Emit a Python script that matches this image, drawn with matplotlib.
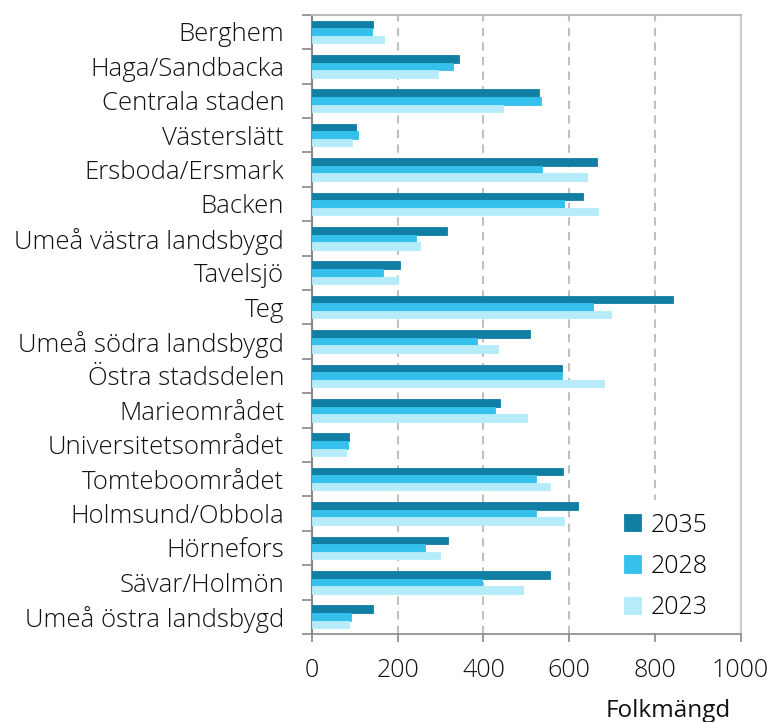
import matplotlib
matplotlib.use("Agg")
import matplotlib.pyplot as plt
import numpy as np
from matplotlib.ticker import FixedLocator

plt.rcParams['font.family'] = ['Open Sans', 'DejaVu Sans']
plt.rcParams['font.weight'] = 'light'

categories = ["Berghem", "Haga/Sandbacka", "Centrala staden", "Västerslätt",
              "Ersboda/Ersmark", "Backen", "Umeå västra landsbygd", "Tavelsjö",
              "Teg", "Umeå södra landsbygd", "Östra stadsdelen", "Marieområdet",
              "Universitetsområdet", "Tomteboområdet", "Holmsund/Obbola",
              "Hörnefors", "Sävar/Holmön", "Umeå östra landsbygd"]
v2035 = [142, 344, 530, 103, 665, 632, 316, 205, 843, 508, 583, 439, 86, 585, 621, 317, 555, 142]
v2028 = [141, 329, 535, 107, 537, 587, 242, 165, 655, 384, 584, 427, 84, 523, 523, 263, 396, 91]
v2023 = [167, 295, 446, 93, 642, 667, 252, 201, 697, 434, 681, 502, 79, 555, 588, 299, 492, 86]
series = [("2035", v2035, "#117fa4"), ("2028", v2028, "#36c1ec"), ("2023", v2023, "#b6ecfa")]
xticks = [0, 200, 400, 600, 800, 1000]

fig = plt.figure(figsize=(7.73, 7.22), dpi=100)
ax = fig.add_axes([0.4036, 0.122, 0.958 - 0.4036, 0.9796 - 0.122])

n = len(categories)
y = np.arange(n)
h = 0.22
offsets = [-h, 0, h]
for (lab, vals, col), off in zip(series, offsets):
    ax.barh(y + off, vals, height=h, color=col, label=lab,
            edgecolor=col, linewidth=0.6, zorder=3)

ax.set_ylim(n - 0.5, -0.5)
ax.set_xlim(0, 1000)
ax.set_xticks(xticks)
ax.set_xticklabels([str(t) for t in xticks], fontsize=18, color="#111111")
ax.tick_params(axis='x', length=6, width=1.2, color="#888888", pad=11)
ax.set_yticks(y)
ax.set_yticklabels(categories, fontsize=18.5, color="#111111")
ax.tick_params(axis='y', which='major', length=0, pad=20)
ax.yaxis.set_minor_locator(FixedLocator(np.arange(-0.5, n, 1.0)))
ax.tick_params(axis='y', which='minor', length=7, width=1.2, color="#888888")

for gx in xticks[1:-1]:
    ax.axvline(gx, color="#c0c0c0", linestyle=(0, (4, 3)), linewidth=1.5, zorder=1)

ax.spines['left'].set_color("#888888")
ax.spines['left'].set_linewidth(1.5)
ax.spines['bottom'].set_color("#888888")
ax.spines['bottom'].set_linewidth(1.2)
ax.spines['top'].set_color("#bbbbbb")
ax.spines['top'].set_linewidth(1.5)
ax.spines['right'].set_color("#cccccc")
ax.spines['right'].set_linewidth(1.5)

leg = ax.legend(loc='lower right', bbox_to_anchor=(0.982, -0.018), frameon=True,
                facecolor='white', edgecolor='none', framealpha=1.0, fancybox=False,
                fontsize=18, handlelength=0.68, handleheight=0.68,
                labelspacing=0.65, handletextpad=0.4, borderpad=0.5)
leg.set_zorder(5)

fig.text(0.946, 0.007, "Folkmängd", fontsize=17.5, fontweight='normal',
         ha='right', va='baseline', color="#111111")

fig.savefig("out.png", dpi=100)
